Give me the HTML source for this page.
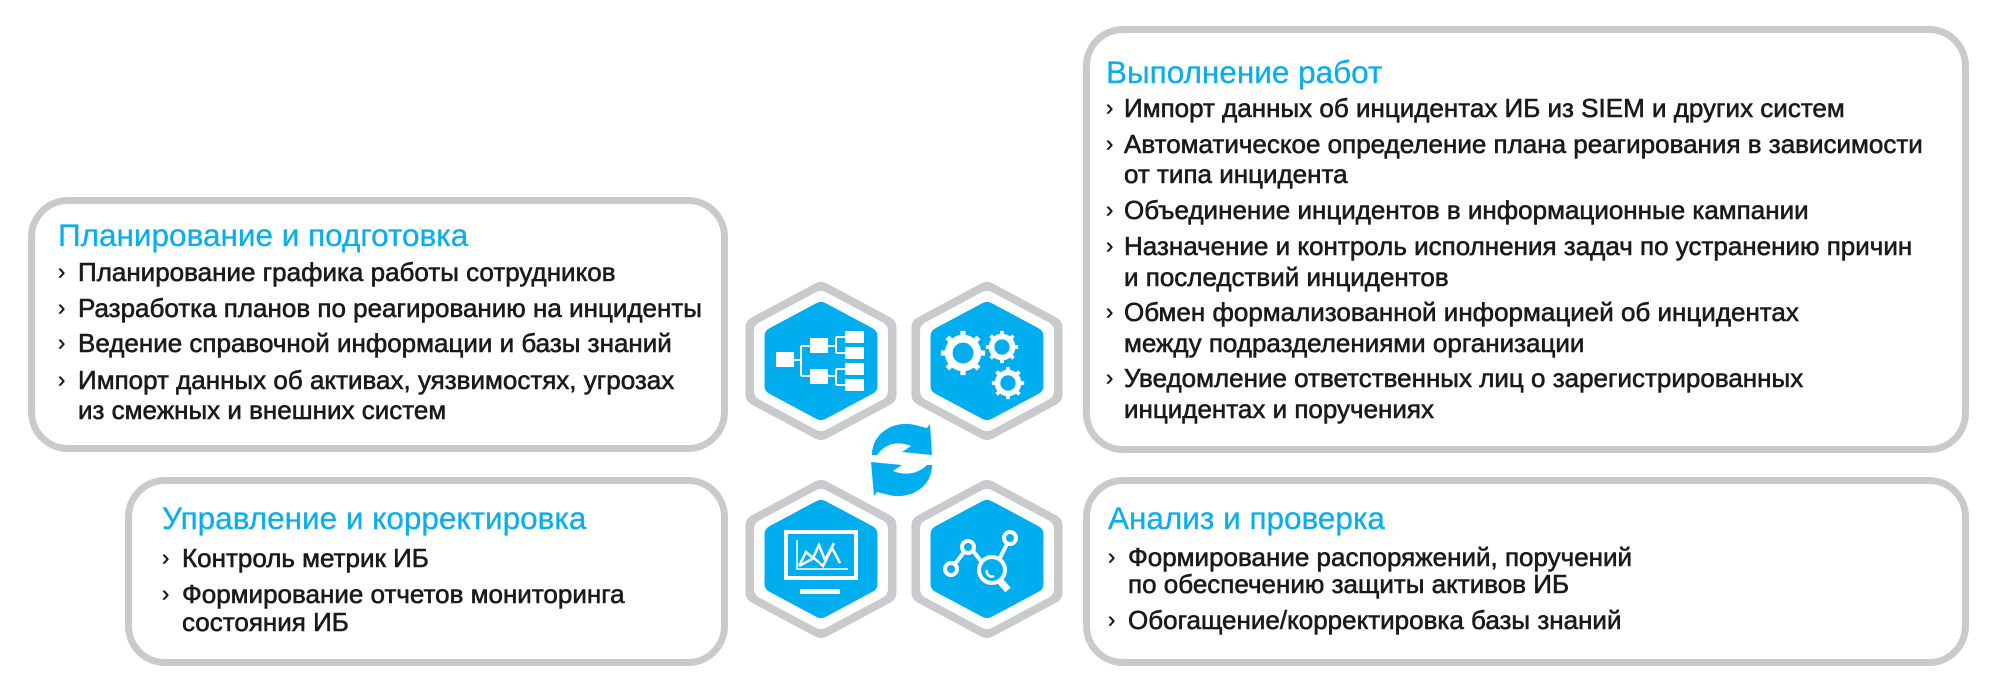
<!DOCTYPE html>
<html><head><meta charset="utf-8">
<style>
html,body{margin:0;padding:0;background:#fff;}
body{width:2000px;height:686px;position:relative;overflow:hidden;font-family:"Liberation Sans","DejaVu Sans",sans-serif;}
.box{position:absolute;border:7px solid #c9cacd;border-radius:40px;box-sizing:border-box;background:#fff;}
.t{position:absolute;white-space:nowrap;line-height:32px;height:32px;transform-origin:left center;}
.h{color:#0aaeea;font-size:31.5px;-webkit-text-stroke:0.3px #0aaeea;}
.l{color:#1a1a1a;font-size:26px;transform:scaleX(1.0);-webkit-text-stroke:0.6px #1a1a1a;}
.b{color:#1a1a1a;font-size:22px;-webkit-text-stroke:0.5px #1a1a1a;}
</style></head><body>

<div class="box" style="left:28px;top:197px;width:700px;height:255px;"></div>
<div class="box" style="left:1083px;top:26px;width:886px;height:427px;"></div>
<div class="box" style="left:125px;top:477px;width:603px;height:189px;"></div>
<div class="box" style="left:1083px;top:477px;width:886px;height:189px;"></div>

<!-- Box 1 -->
<div class="t h" style="left:58px;top:219px;">Планирование и подготовка</div>
<div class="t b" style="left:58px;top:256px;">›</div><div class="t l" style="left:78px;top:256px;">Планирование графика работы сотрудников</div>
<div class="t b" style="left:58px;top:292px;">›</div><div class="t l" style="left:78px;top:292px;">Разработка планов по реагированию на инциденты</div>
<div class="t b" style="left:58px;top:327px;">›</div><div class="t l" style="left:78px;top:327px;">Ведение справочной информации и базы знаний</div>
<div class="t b" style="left:58px;top:364px;">›</div><div class="t l" style="left:78px;top:364px;">Импорт данных об активах, уязвимостях, угрозах</div>
<div class="t l" style="left:78px;top:394px;">из смежных и внешних систем</div>

<!-- Box 2 -->
<div class="t h" style="left:1106px;top:56px;">Выполнение работ</div>
<div class="t b" style="left:1106px;top:92px;">›</div><div class="t l" style="left:1124px;top:92px;">Импорт данных об инцидентах ИБ из SIEM и других систем</div>
<div class="t b" style="left:1106px;top:128px;">›</div><div class="t l" style="left:1124px;top:128px;">Автоматическое определение плана реагирования в зависимости</div>
<div class="t l" style="left:1124px;top:158px;">от типа инцидента</div>
<div class="t b" style="left:1106px;top:194px;">›</div><div class="t l" style="left:1124px;top:194px;">Объединение инцидентов в информационные кампании</div>
<div class="t b" style="left:1106px;top:230px;">›</div><div class="t l" style="left:1124px;top:230px;">Назначение и контроль исполнения задач по устранению причин</div>
<div class="t l" style="left:1124px;top:261px;">и последствий инцидентов</div>
<div class="t b" style="left:1106px;top:296px;">›</div><div class="t l" style="left:1124px;top:296px;">Обмен формализованной информацией об инцидентах</div>
<div class="t l" style="left:1124px;top:327px;">между подразделениями организации</div>
<div class="t b" style="left:1106px;top:362px;">›</div><div class="t l" style="left:1124px;top:362px;">Уведомление ответственных лиц о зарегистрированных</div>
<div class="t l" style="left:1124px;top:393px;">инцидентах и поручениях</div>

<!-- Box 3 -->
<div class="t h" style="left:162px;top:502px;">Управление и корректировка</div>
<div class="t b" style="left:162px;top:542px;">›</div><div class="t l" style="left:182px;top:542px;">Контроль метрик ИБ</div>
<div class="t b" style="left:162px;top:578px;">›</div><div class="t l" style="left:182px;top:578px;">Формирование отчетов мониторинга</div>
<div class="t l" style="left:182px;top:606px;">состояния ИБ</div>

<!-- Box 4 -->
<div class="t h" style="left:1108px;top:502px;">Анализ и проверка</div>
<div class="t b" style="left:1108px;top:541px;">›</div><div class="t l" style="left:1128px;top:541px;">Формирование распоряжений, поручений</div>
<div class="t l" style="left:1128px;top:568px;">по обеспечению защиты активов ИБ</div>
<div class="t b" style="left:1108px;top:604px;">›</div><div class="t l" style="left:1128px;top:604px;">Обогащение/корректировка базы знаний</div>

<svg width="2000" height="686" style="position:absolute;left:0;top:0;" xmlns="http://www.w3.org/2000/svg">
<defs>
<g id="hex">
 <g transform="scale(1.08,1)">
  <polygon points="0,-68 58.9,-34 58.9,34 0,68 -58.9,34 -58.9,-34" fill="#c9cacd" stroke="#c9cacd" stroke-width="22" stroke-linejoin="round"/>
  <polygon points="0,-60 52,-30 52,30 0,60 -52,30 -52,-30" fill="#fff" stroke="#fff" stroke-width="20" stroke-linejoin="round"/>
  <polygon points="0,-50 43.3,-25 43.3,25 0,50 -43.3,25 -43.3,-25" fill="#00aeef" stroke="#00aeef" stroke-width="18" stroke-linejoin="round"/>
 </g>
</g>
<g id="gear">
 <circle r="11" fill="none" stroke="#fff" stroke-width="6"/>
 <g stroke="#fff" stroke-width="4">
  <line x1="0" y1="-17" x2="0" y2="17"/><line x1="-17" y1="0" x2="17" y2="0"/>
  <line x1="-12" y1="-12" x2="12" y2="12"/><line x1="-12" y1="12" x2="12" y2="-12"/>
 </g>
 <circle r="8" fill="#00aeef"/>
</g>
</defs>

<use href="#hex" x="821" y="361"/>
<use href="#hex" x="987" y="361"/>
<use href="#hex" x="821" y="559"/>
<use href="#hex" x="987" y="559"/>

<!-- tree icon -->
<g fill="#fff" stroke="#fff">
 <rect x="776" y="352" width="18" height="15" stroke="none"/>
 <rect x="810" y="338" width="18" height="15" stroke="none"/>
 <rect x="810" y="369" width="18" height="15" stroke="none"/>
 <rect x="845" y="331" width="19" height="12" stroke="none"/>
 <rect x="845" y="347" width="19" height="12" stroke="none"/>
 <rect x="845" y="363" width="19" height="12" stroke="none"/>
 <rect x="845" y="379" width="19" height="12" stroke="none"/>
 <path d="M794 360 H801 M801 346 V376 M801 346 H810 M801 376 H810 M828 346 H836 M836 337 V353 M836 337 H845 M836 353 H845 M828 376 H836 M836 369 V385 M836 369 H845 M836 385 H845" fill="none" stroke-width="2"/>
</g>

<!-- gears -->
<use href="#gear" transform="translate(963,353) scale(1.3)"/>
<use href="#gear" transform="translate(1002,347) scale(0.95)"/>
<use href="#gear" transform="translate(1008,383) scale(0.95)"/>

<!-- monitor icon -->
<g fill="none" stroke="#fff">
 <rect x="786" y="532" width="70" height="46" stroke-width="4"/>
 <rect x="800" y="589" width="40" height="5" fill="#fff" stroke="none"/>
 <path d="M797 540 V569 H848" stroke-width="1.5"/>
 <path d="M799 566 L806 552 L813 558 L819 545 L825 560 L834 543 M799 566 L814 558 L823 566 L832 548 L840 563" stroke-width="2.5"/>
</g>

<!-- network/magnifier icon -->
<g fill="none" stroke="#fff" stroke-width="4">
 <circle cx="951" cy="569" r="6"/>
 <circle cx="968" cy="547" r="6"/>
 <circle cx="1010" cy="538" r="6"/>
 <circle cx="992" cy="570" r="13"/>
 <line x1="955" y1="564" x2="964" y2="552"/>
 <line x1="973" y1="551" x2="981" y2="561"/>
 <line x1="1007" y1="544" x2="1000" y2="558"/>
 <line x1="1000" y1="581" x2="1008" y2="590" stroke-width="7"/>
 <path d="M987 570 a5 5 0 0 0 7 6" stroke-width="2.5"/>
</g>

<!-- refresh arrows -->
<g fill="#00aeef">
 <path d="M872 455 C872 432 895 420 915 425 L927 428 L930 424 L932 455 L902 452 L911 446 C896 440 884 445 877 455 Z"/>
 <path d="M932 465 C932 488 909 500 889 495 L877 492 L874 496 L871 462 L902 465 L893 471 C908 477 920 472 927 465 Z"/>
</g>
</svg>
</body></html>
